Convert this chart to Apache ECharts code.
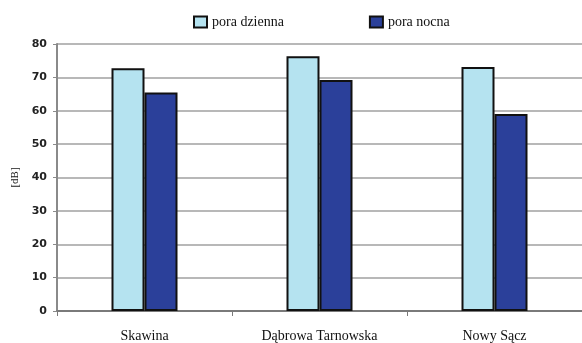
<!DOCTYPE html>
<html><head><meta charset="utf-8">
<script src="https://cdn.jsdelivr.net/npm/echarts@6/dist/echarts.min.js"></script>
<style>html,body{margin:0;padding:0;background:#fff}#c{width:582px;height:343px}</style>
</head><body><div id="c"></div>
<script>
const categories = ['Skawina', 'Dąbrowa Tarnowska', 'Nowy Sącz'];
const dayValues = [72.7, 76.3, 73.1];
const nightValues = [65.5, 69.2, 59.0];
const seriesNames = ['pora dzienna', 'pora nocna'];
const yTicks = [0, 10, 20, 30, 40, 50, 60, 70, 80];

const chart = echarts.init(document.getElementById('c'));
chart.setOption({
  animation: false,
  backgroundColor: '#fff',
  legend: {
    data: seriesNames,
    icon: 'rect',
    left: 193, top: 15, padding: 0,
    itemWidth: 13, itemHeight: 11, itemGap: 85,
    textStyle: { fontFamily: 'Liberation Serif', fontSize: 14, color: '#111' }
  },
  grid: { left: 57, right: -9, top: 44, bottom: 32, containLabel: false },
  xAxis: {
    type: 'category',
    data: categories,
    axisLine: { lineStyle: { color: '#7a7a7a', width: 2 } },
    axisTick: { show: true, length: 5, lineStyle: { color: '#7a7a7a', width: 1 } },
    axisLabel: { fontFamily: 'Liberation Serif', fontSize: 14, color: '#111', margin: 18 }
  },
  yAxis: {
    type: 'value',
    min: yTicks[0], max: yTicks[yTicks.length - 1], interval: 10,
    name: '[dB]', nameLocation: 'middle', nameGap: 36,
    nameTextStyle: { fontFamily: 'Liberation Serif', fontSize: 11, color: '#111' },
    axisLine: { show: true, lineStyle: { color: '#8a8a8a', width: 2 } },
    axisTick: { show: true, length: 4, lineStyle: { color: '#8a8a8a', width: 1 } },
    axisLabel: { fontFamily: 'DejaVu Sans', fontWeight: 'bold', fontSize: 11, color: '#222', margin: 10 },
    splitLine: { lineStyle: { color: '#b8b8b8', width: 2 } }
  },
  series: [
    {
      name: seriesNames[0], type: 'bar', data: dayValues,
      barWidth: 33, barGap: '0%',
      itemStyle: { color: '#b5e3f0', borderColor: '#111', borderWidth: 2 }
    },
    {
      name: seriesNames[1], type: 'bar', data: nightValues,
      barWidth: 33, barGap: '0%',
      itemStyle: { color: '#2b409a', borderColor: '#111', borderWidth: 2 }
    }
  ]
});
</script></body></html>
